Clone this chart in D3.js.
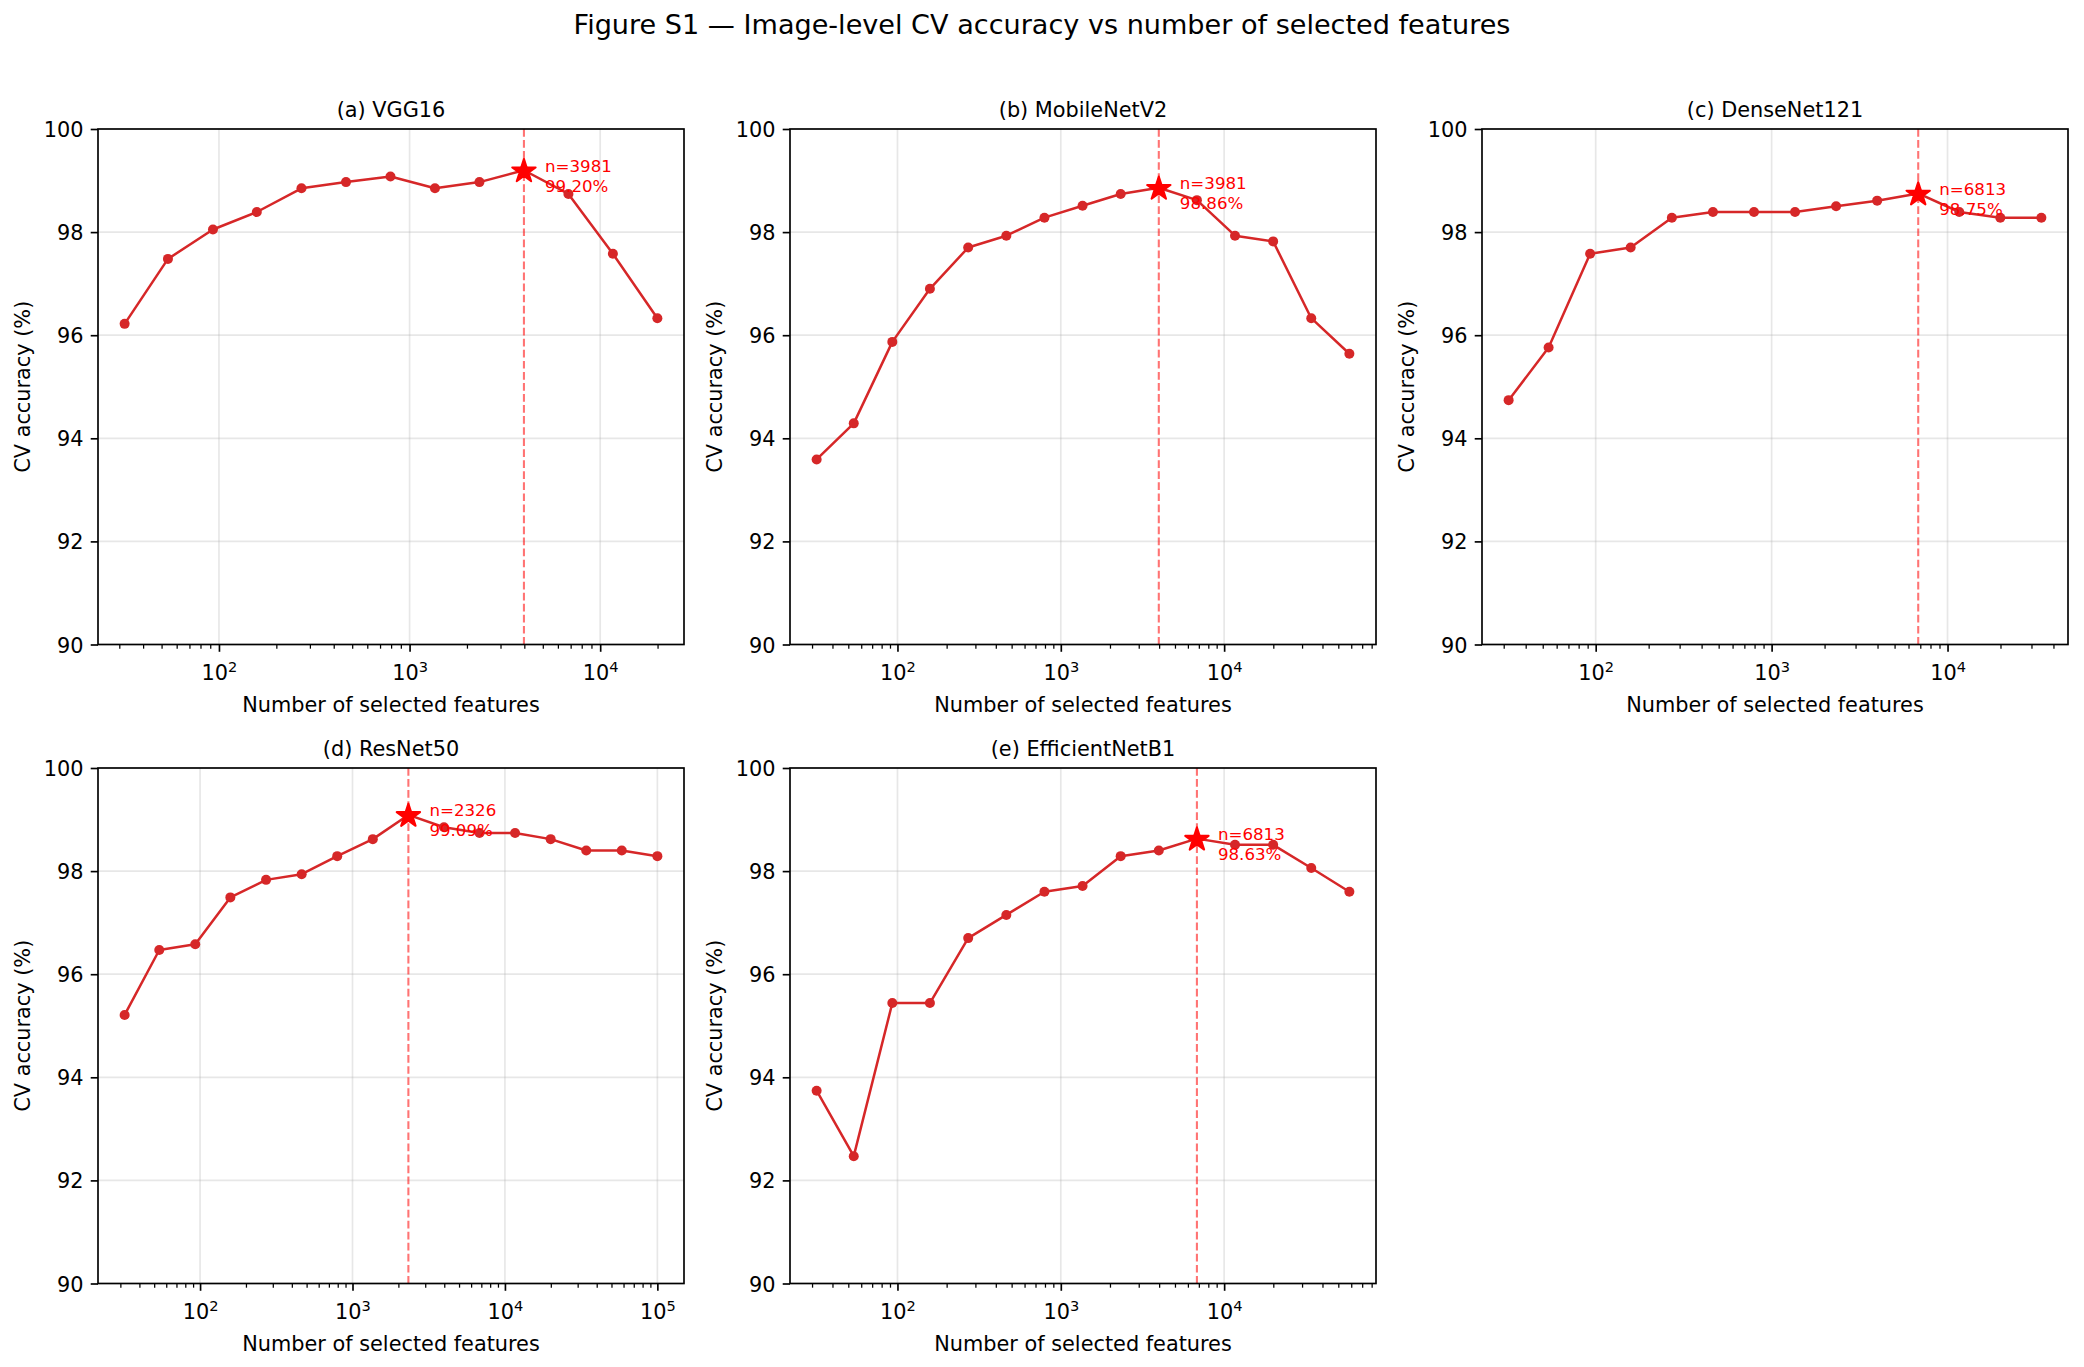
<!DOCTYPE html>
<html>
<head>
<meta charset="utf-8">
<script src="https://cdn.jsdelivr.net/npm/d3@7"></script>
<style>
body { margin: 0; background: #fff; }
text { font-family: "DejaVu Sans", sans-serif; }
</style>
</head>
<body>
<div id="fig"></div>
<script>
/* Data ************************************************************************/

// number of selected features at each evaluation step (shared by all models)
var featureCounts = [32, 54, 93, 158, 271, 464, 794, 1359, 2326, 3981,
                     6813, 11659, 19953, 34146, 58434, 100000];

// CV accuracy (%) per model, one value per feature count
var accVGG16        = [96.22, 97.48, 98.05, 98.39, 98.85, 98.97, 99.08, 98.85, 98.97, 99.20,
                       98.74, 97.58, 96.33];
var accMobileNetV2  = [93.59, 94.29, 95.87, 96.90, 97.70, 97.93, 98.28, 98.51, 98.74, 98.86,
                       98.62, 97.93, 97.82, 96.33, 95.64];
var accDenseNet121  = [94.74, 95.76, 97.58, 97.70, 98.28, 98.39, 98.39, 98.39, 98.50, 98.61,
                       98.75, 98.39, 98.28, 98.28];
var accResNet50     = [95.21, 96.47, 96.58, 97.49, 97.83, 97.94, 98.29, 98.62, 99.09, 98.85,
                       98.74, 98.74, 98.62, 98.40, 98.40, 98.29];
var accEfficientB1  = [93.74, 92.47, 95.44, 95.44, 96.70, 97.15, 97.60, 97.71, 98.29, 98.40,
                       98.63, 98.51, 98.51, 98.06, 97.60];

var panelTitles = ['(a) VGG16', '(b) MobileNetV2', '(c) DenseNet121', '(d) ResNet50', '(e) EfficientNetB1'];
var bestN   = [3981, 3981, 6813, 2326, 6813];
var bestAcc = [99.20, 98.86, 98.75, 99.09, 98.63];
var yTicks  = [90, 92, 94, 96, 98, 100];

var accSeries = [accVGG16, accMobileNetV2, accDenseNet121, accResNet50, accEfficientB1];

/* Layout **********************************************************************/

var fig_w = 2084, fig_h = 1367,
    pt = 150/72,
    ax_w = 586, ax_h = 515.5,
    col_left = [98, 790, 1482],
    row_top = [129, 768],
    font_px = 10*pt,
    red_line = '#d62728';

/* Functions *******************************************************************/

/*
 * Name: build_panel
 * Synop: draws one subplot (index k) with its top-left corner at (left, top)
 */
function build_panel(svg, k, left, top)
{
    let acc = accSeries[k],
        xs = featureCounts.slice(0, acc.length),
        pts = xs.map((n, i) => [n, acc[i]]);

    // matplotlib-like 5% margins in log space
    let lo = Math.log10(d3.min(xs)),
        hi = Math.log10(d3.max(xs)),
        pad = 0.05*(hi - lo);

    let x = d3.scaleLog().domain([10**(lo - pad), 10**(hi + pad)]).range([0, ax_w]),
        y = d3.scaleLinear().domain([90, 100]).range([ax_h, 0]);

    let g = svg.append('g').attr('transform', `translate(${left},${top})`);

    // decade + minor tick positions
    let e0 = Math.floor(lo - pad), e1 = Math.ceil(hi + pad),
        decades = [], minors = [];
    for(let e = e0; e <= e1; e++) {
        let v = 10**e;
        if(v >= x.domain()[0] && v <= x.domain()[1]) decades.push(v);
        for(let m = 2; m <= 9; m++) {
            let mv = m*10**e;
            if(mv >= x.domain()[0] && mv <= x.domain()[1]) minors.push(mv);
        }
    }

    // grid
    let grid = g.append('g').attr('stroke', '#b0b0b0').attr('stroke-opacity', 0.3)
                .attr('stroke-width', 0.8*pt);
    grid.selectAll('.gx').data(decades).join('line').attr('class', 'gx')
        .attr('x1', d => x(d)).attr('x2', d => x(d)).attr('y1', 0).attr('y2', ax_h);
    grid.selectAll('.gy').data(yTicks).join('line').attr('class', 'gy')
        .attr('x1', 0).attr('x2', ax_w).attr('y1', d => y(d)).attr('y2', d => y(d));

    // data line + points
    let line = d3.line().x(d => x(d[0])).y(d => y(d[1]));
    g.append('path').attr('d', line(pts)).attr('fill', 'none')
        .attr('stroke', red_line).attr('stroke-width', 1.2*pt).attr('stroke-linejoin', 'round');
    g.append('g').selectAll('circle').data(pts).join('circle')
        .attr('cx', d => x(d[0])).attr('cy', d => y(d[1])).attr('r', 5)
        .attr('fill', red_line);

    // best point: dashed line, star, annotation
    let bx = x(bestN[k]), by = y(bestAcc[k]);
    g.append('line').attr('x1', bx).attr('x2', bx).attr('y1', 0).attr('y2', ax_h)
        .attr('stroke', '#ff0000').attr('stroke-opacity', 0.55).attr('stroke-width', 1*pt)
        .attr('stroke-dasharray', `${3.7*pt},${1.6*pt}`);
    g.append('path').attr('d', d3.symbol(d3.symbolStar, 170)())
        .attr('transform', `translate(${bx},${by + 1})`).attr('fill', '#ff0000')
        .attr('stroke', '#ff0000').attr('stroke-width', 2).attr('stroke-linejoin', 'round');
    let ann = g.append('text').attr('fill', '#ff0000').attr('font-size', 8*pt);
    ann.append('tspan').attr('x', bx + 21).attr('y', by + 1.5).text(`n=${bestN[k]}`);
    ann.append('tspan').attr('x', bx + 21).attr('y', by + 21.5).text(`${bestAcc[k].toFixed(2)}%`);

    // x axis: minor then major ticks
    let xmin = g.append('g').attr('transform', `translate(0,${ax_h})`)
        .call(d3.axisBottom(x).tickValues(minors).tickSize(2*pt).tickFormat(''));
    xmin.select('.domain').remove();
    xmin.selectAll('line').attr('stroke-width', 0.6*pt);

    let xmaj = g.append('g').attr('transform', `translate(0,${ax_h})`)
        .call(d3.axisBottom(x).tickValues(decades).tickSize(3.5*pt));
    xmaj.select('.domain').remove();
    xmaj.selectAll('line').attr('stroke-width', 0.8*pt);
    xmaj.selectAll('text').each(function(d) {
        let t = d3.select(this).text('').attr('y', 35.8).attr('dy', null)
                  .attr('font-size', font_px).attr('fill', '#000')
                  .attr('font-family', '"DejaVu Sans", sans-serif');
        t.append('tspan').text('10');
        t.append('tspan').attr('dy', -8.6).attr('font-size', 0.7*font_px)
            .text(Math.round(Math.log10(d)));
    });

    // y axis
    let yax = g.append('g')
        .call(d3.axisLeft(y).tickValues(yTicks).tickSize(3.5*pt).tickPadding(3.5*pt));
    yax.select('.domain').remove();
    yax.selectAll('line').attr('stroke-width', 0.8*pt);
    yax.selectAll('text').attr('font-size', font_px).attr('fill', '#000')
        .attr('font-family', '"DejaVu Sans", sans-serif').attr('dy', '0.36em');

    // frame
    g.append('rect').attr('x', 0).attr('y', 0).attr('width', ax_w).attr('height', ax_h)
        .attr('fill', 'none').attr('stroke', '#000').attr('stroke-width', 0.8*pt);

    // labels
    g.append('text').attr('x', ax_w/2).attr('y', -12.5).attr('text-anchor', 'middle')
        .attr('font-size', font_px).text(panelTitles[k]);
    g.append('text').attr('x', ax_w/2).attr('y', ax_h + 67).attr('text-anchor', 'middle')
        .attr('font-size', font_px).text('Number of selected features');
    g.append('text').attr('transform', `translate(-68,${ax_h/2}) rotate(-90)`)
        .attr('text-anchor', 'middle').attr('font-size', font_px).text('CV accuracy (%)');
}

/* Main ************************************************************************/

var svg = d3.select('#fig').append('svg')
    .attr('width', fig_w).attr('height', fig_h)
    .style('background', '#fff');

svg.append('text').attr('x', fig_w/2).attr('y', 34).attr('text-anchor', 'middle')
    .attr('font-size', 13*pt)
    .text('Figure S1 \u2014 Image-level CV accuracy vs number of selected features');

panelTitles.forEach((_, k) => {
    build_panel(svg, k, col_left[k % 3], row_top[Math.floor(k/3)]);
});
</script>
</body>
</html>
